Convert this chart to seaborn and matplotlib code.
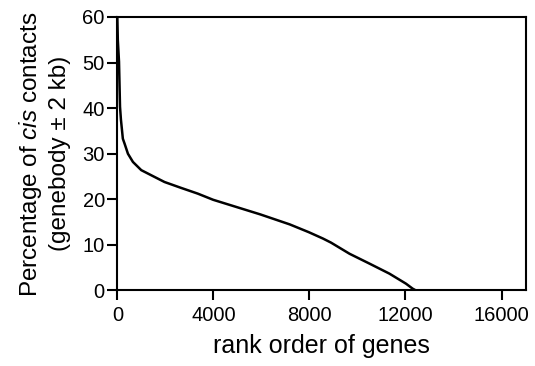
import matplotlib
matplotlib.use("Agg")
import matplotlib.pyplot as plt
import seaborn as sns
import pandas as pd

rank = [0, 20, 70, 112, 150, 230, 303, 442, 650, 997, 1480, 1965, 2660,
        3350, 3990, 5950, 7180, 7970, 8562, 8900, 9670, 10500, 11330,
        12020, 12300, 12440, 16950]
pct = [60, 55, 50.2, 40.3, 37.5, 33.3, 32.2, 30.0, 28.2, 26.4, 25.1, 23.8,
       22.5, 21.25, 19.9, 16.7, 14.5, 12.8, 11.4, 10.5, 8.06, 5.9, 3.7,
       1.5, 0.4, 0.0, 0.0]
xticks = [0, 4000, 8000, 12000, 16000]
yticks = [0, 10, 20, 30, 40, 50, 60]

sns.set_theme(style="ticks")
plt.rcParams['font.family'] = ['Liberation Sans', 'DejaVu Sans']
plt.rcParams['mathtext.fontset'] = 'custom'
plt.rcParams['mathtext.rm'] = 'Liberation Sans'
plt.rcParams['mathtext.it'] = 'Liberation Sans:italic'

df = pd.DataFrame({"rank": rank, "pct": pct})

fig = plt.figure(figsize=(5.35, 3.66), dpi=100)
ax = fig.add_axes([0.2193, 0.2063, 0.763, 0.7473])
sns.lineplot(data=df, x="rank", y="pct", ax=ax, color="black", linewidth=1.8)

ax.set_xlim(0, 17000)
ax.set_ylim(0, 60)
ax.set_xticks(xticks)
ax.set_yticks(yticks)
ax.tick_params(axis='both', labelsize=14.5, length=7, width=1.5, color='black',
               direction='out', labelcolor='black')
ax.tick_params(axis='x', pad=4)
ax.tick_params(axis='y', pad=2)
for s in ax.spines.values():
    s.set_linewidth(1.5)
    s.set_color('black')
ax.set_xlabel("rank order of genes", fontsize=18, labelpad=7, color='black')
ax.set_ylabel("Percentage of $\\it{cis}$ contacts\n(genebody \u00b1 2 kb)",
              fontsize=17.5, labelpad=8, color='black', linespacing=1.3)

fig.savefig("out.png", dpi=100)
